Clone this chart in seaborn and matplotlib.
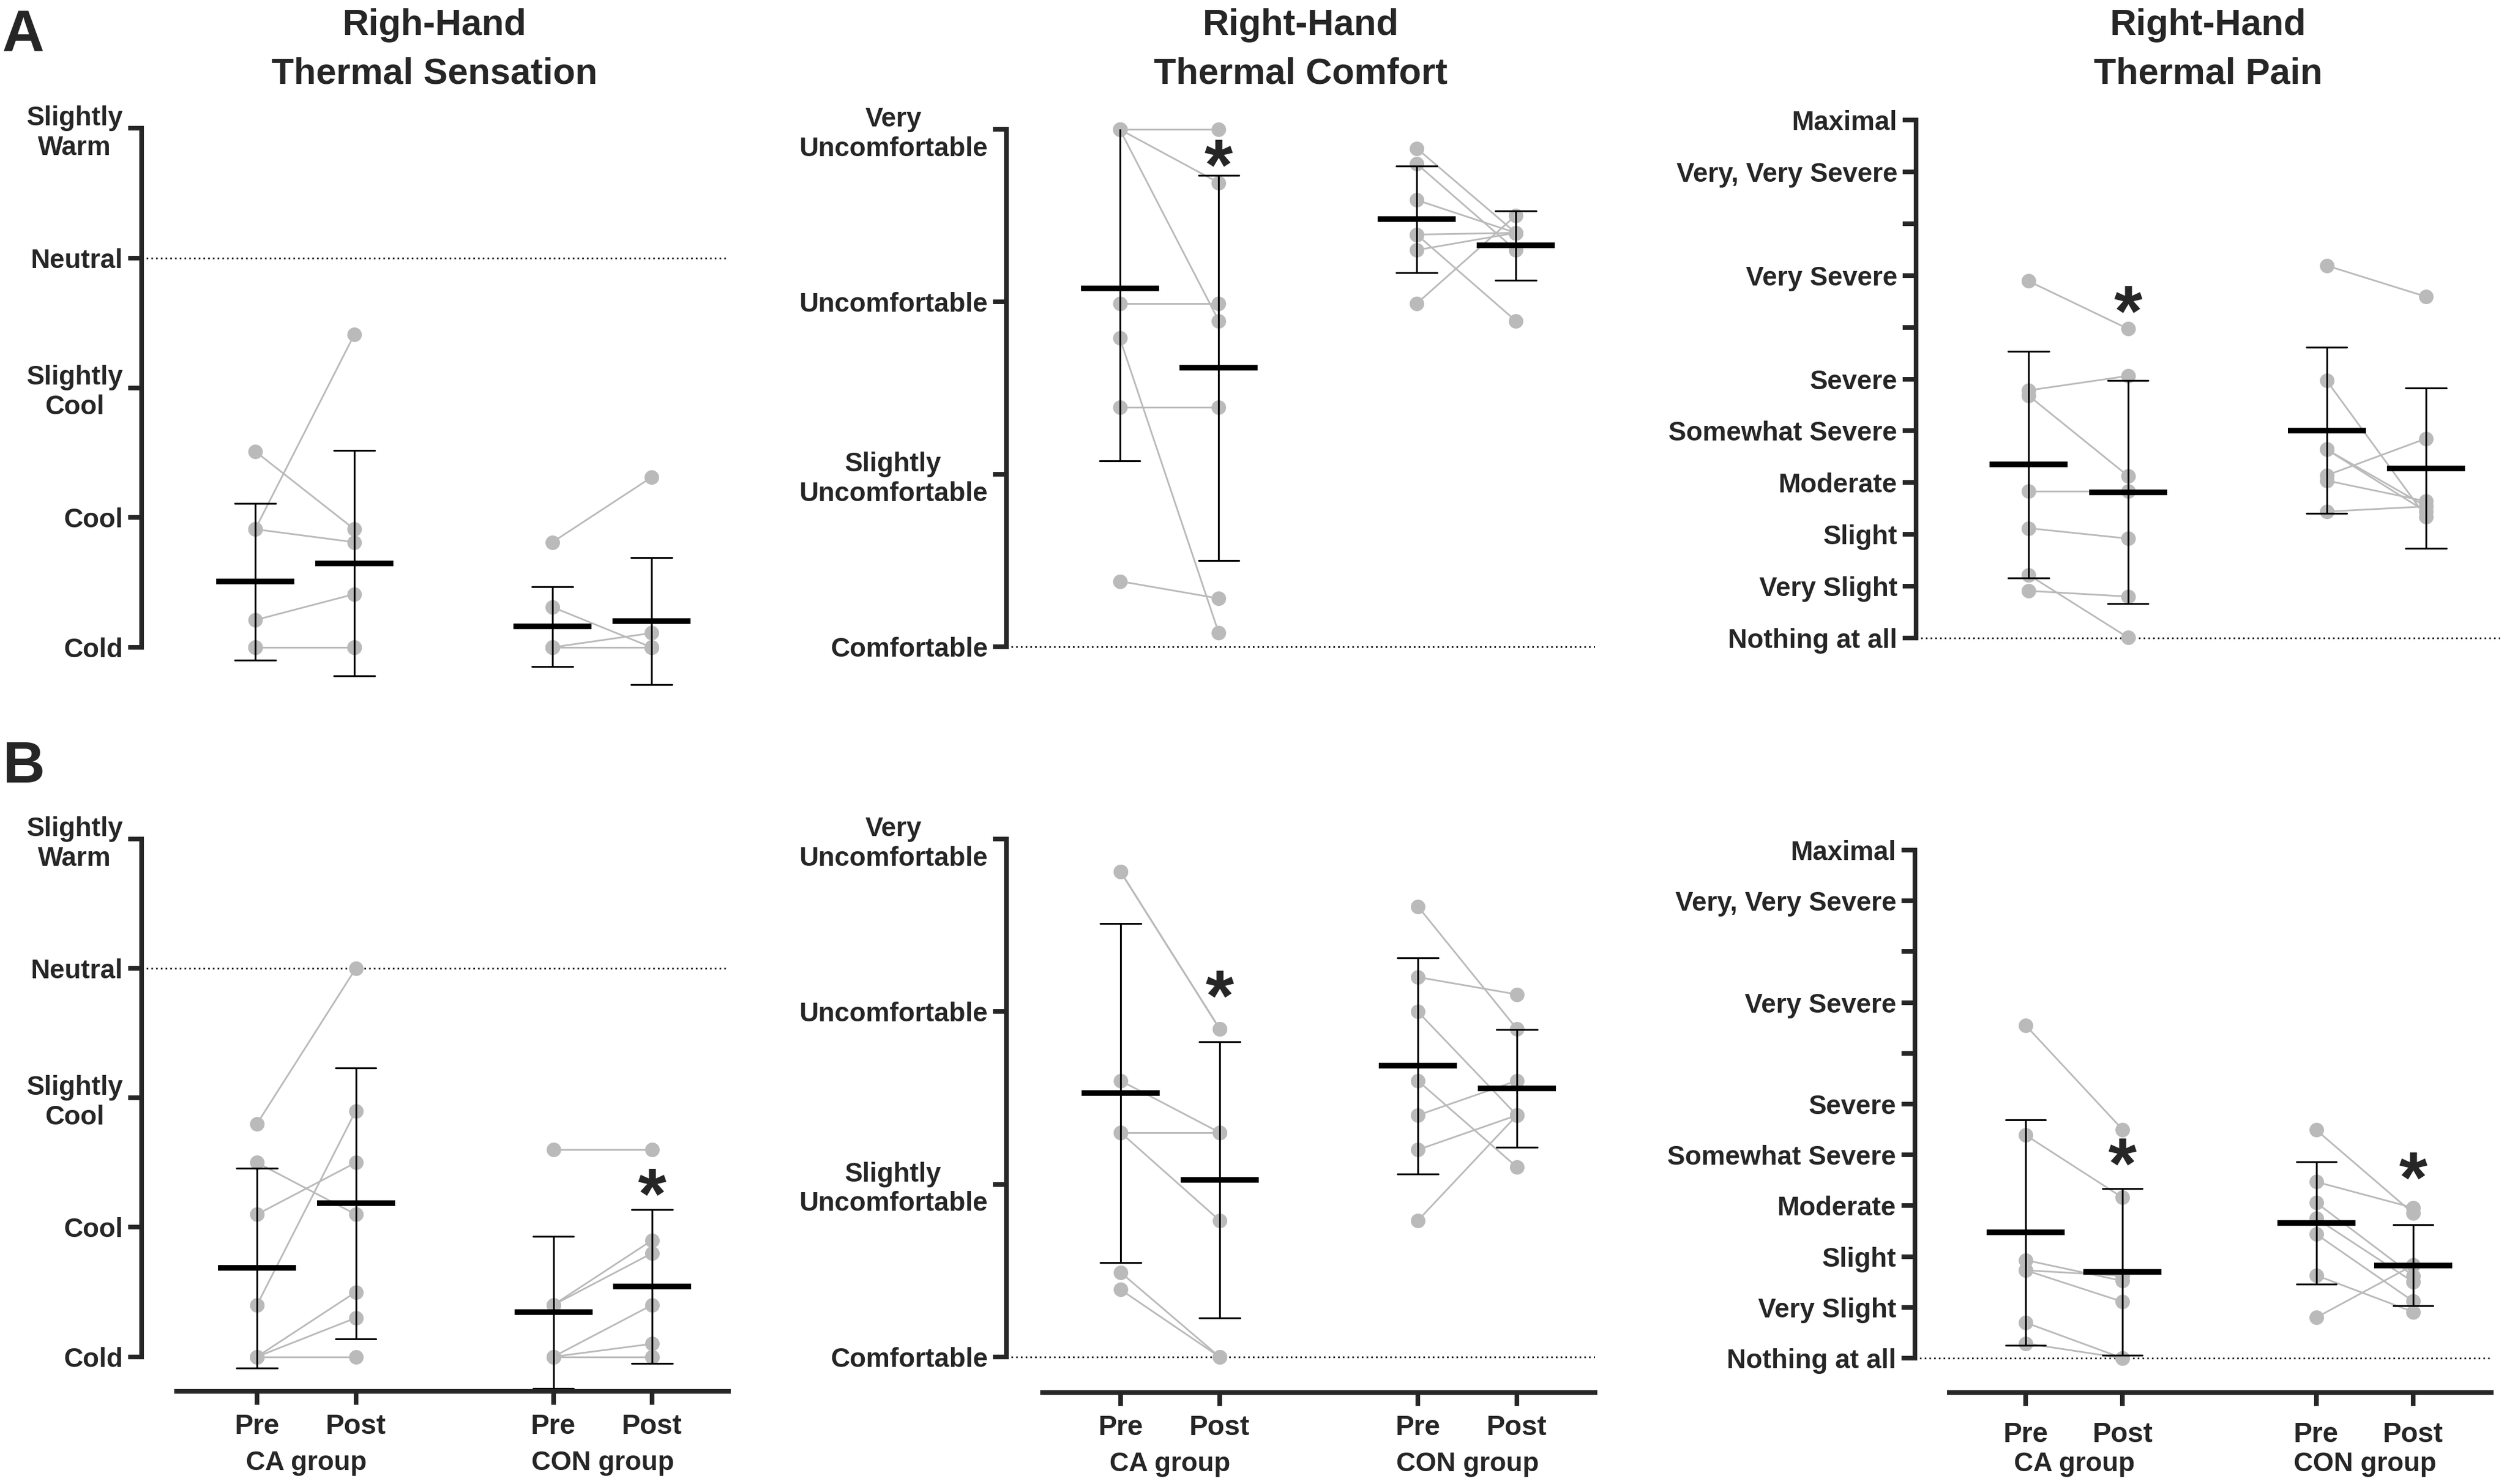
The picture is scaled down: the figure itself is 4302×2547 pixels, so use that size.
import matplotlib.pyplot as plt
import matplotlib.transforms as mtransforms
import pandas as pd
import seaborn as sns

sns.set_style('ticks')
plt.rcParams['font.family'] = ['Liberation Sans', 'DejaVu Sans']
plt.rcParams['font.weight'] = 'bold'

W, H, DPI = 4302, 2547, 300

# ---------------- data ----------------
# x positions: Pre/Post of CA group, then Pre/Post of CON group
x_pos = [0, 1, 3, 4]
x_labels = ['Pre', 'Post', 'Pre', 'Post']
group_names = ['CA group', 'CON group']

sens_ticks = [-3, -2, -1, 0, 1]
sens_labels = ['Cold', 'Cool', 'Slightly\nCool', 'Neutral', 'Slightly\nWarm']
comf_ticks = [0, 1, 2, 3]
comf_labels = ['Comfortable', 'Slightly\nUncomfortable', 'Uncomfortable',
               'Very\nUncomfortable']
pain_ticks = [0, 1, 2, 3, 4, 5, 6, 7, 8, 9, 10]
pain_labels = ['Nothing at all', 'Very Slight', 'Slight', 'Moderate',
               'Somewhat Severe', 'Severe', '', 'Very Severe', '',
               'Very, Very Severe', 'Maximal']

# row A (one value per subject, same order pre/post)
a_sens_ca_pre = [-1.49, -2.09, -2.09, -2.79, -3.0, -3.0, -3.0]
a_sens_ca_post = [-2.09, -0.59, -2.19, -2.59, -3.0, -3.0, -3.0]
a_sens_con_pre = [-2.19, -2.69, -3.0, -3.0, -3.0, -3.0, -3.0]
a_sens_con_post = [-1.69, -3.0, -2.89, -3.0, -3.0, -3.0, -3.0]

a_comf_ca_pre = [3.0, 3.0, 3.0, 1.99, 1.79, 1.39, 0.38]
a_comf_ca_post = [3.0, 2.69, 1.89, 1.99, 0.08, 1.39, 0.28]
a_comf_con_pre = [2.89, 2.80, 2.59, 2.39, 2.39, 2.30, 1.99]
a_comf_con_post = [2.40, 2.30, 2.40, 2.40, 1.89, 2.40, 2.50]

a_pain_ca_pre = [6.89, 4.78, 4.68, 2.83, 2.12, 1.22, 0.91]
a_pain_ca_post = [5.97, 5.06, 3.13, 2.83, 1.92, 0.01, 0.80]
a_pain_con_pre = [7.19, 4.97, 3.64, 3.64, 3.14, 3.04, 2.44]
a_pain_con_post = [6.59, 2.34, 2.44, 2.54, 3.85, 2.64, 2.54]

# row B
b_sens_ca_pre = [-1.20, -1.50, -1.90, -2.60, -3.0, -3.0, -3.0]
b_sens_ca_post = [0.0, -1.90, -1.50, -1.10, -2.50, -2.70, -3.0]
b_sens_con_pre = [-1.40, -2.60, -2.60, -3.0, -3.0, -3.0, -3.0]
b_sens_con_post = [-1.40, -2.10, -2.20, -2.60, -2.90, -3.0, -3.0]

b_comf_ca_pre = [2.81, 2.81, 1.60, 1.30, 1.30, 0.49, 0.39]
b_comf_ca_post = [1.90, 1.90, 1.30, 1.30, 0.79, 0.0, 0.0]
b_comf_con_pre = [2.61, 2.20, 2.00, 1.60, 1.40, 1.20, 0.79]
b_comf_con_post = [1.90, 2.10, 1.40, 1.10, 1.60, 1.40, 1.40]

b_pain_ca_pre = [6.55, 4.39, 1.93, 1.73, 1.73, 0.70, 0.29]
b_pain_ca_post = [4.50, 3.16, 1.52, 1.62, 1.11, 0.0, 0.0]
b_pain_con_pre = [4.49, 3.47, 3.06, 2.75, 2.44, 1.63, 0.80]
b_pain_con_post = [2.85, 2.96, 1.62, 1.50, 1.12, 0.91, 1.83]

# significance stars (x position, y value)
a_comf_stars = [(1, 2.83)]
a_pain_stars = [(1, 6.43)]
b_sens_stars = [(4, -1.69)]
b_comf_stars = [(1, 2.13)]
b_pain_stars = [(1, 3.96), (4, 3.68)]


def long_form(ca_pre, ca_post, con_pre, con_post):
    rows = []
    groups = [('CA', ca_pre, ca_post, x_pos[0], x_pos[1]),
              ('CON', con_pre, con_post, x_pos[2], x_pos[3])]
    for grp, pre, post, p0, p1 in groups:
        for i, (v0, v1) in enumerate(zip(pre, post)):
            rows.append({'subject': f'{grp}{i}', 'pos': p0, 'value': v0})
            rows.append({'subject': f'{grp}{i}', 'pos': p1, 'value': v1})
    return pd.DataFrame(rows)


# layout in pixels of the target image: box = (left, right, top, bottom)
panels = [
    dict(df=long_form(a_sens_ca_pre, a_sens_ca_post, a_sens_con_pre, a_sens_con_post),
         ticks=sens_ticks, labels=sens_labels, ref=0, stars=[],
         box=(243, 1248, 220, 1200), xref=((0, 438), (4, 1118)),
         yref=((-3, 1111), (1, 220)), title=('Righ-Hand', 'Thermal Sensation'),
         xaxis=None),
    dict(df=long_form(a_comf_ca_pre, a_comf_ca_post, a_comf_con_pre, a_comf_con_post),
         ticks=comf_ticks, labels=comf_labels, ref=0, stars=a_comf_stars,
         box=(1727, 2737, 222, 1200), xref=((0, 1921.5), (4, 2601)),
         yref=((0, 1110), (3, 222)), title=('Right-Hand', 'Thermal Comfort'),
         xaxis=None),
    dict(df=long_form(a_pain_ca_pre, a_pain_ca_post, a_pain_con_pre, a_pain_con_post),
         ticks=pain_ticks, labels=pain_labels, ref=0, stars=a_pain_stars,
         box=(3288, 4290, 206, 1200), xref=((0, 3481), (4, 4163)),
         yref=((0, 1095), (10, 206)), title=('Right-Hand', 'Thermal Pain'),
         xaxis=None),
    dict(df=long_form(b_sens_ca_pre, b_sens_ca_post, b_sens_con_pre, b_sens_con_post),
         ticks=sens_ticks, labels=sens_labels, ref=0, stars=b_sens_stars,
         box=(243, 1250, 1440, 2388), xref=((0, 441), (4, 1119)),
         yref=((-3, 2328.6), (1, 1440)), title=None,
         xaxis=dict(start=302.6, pad=3.6)),
    dict(df=long_form(b_comf_ca_pre, b_comf_ca_post, b_comf_con_pre, b_comf_con_post),
         ticks=comf_ticks, labels=comf_labels, ref=0, stars=b_comf_stars,
         box=(1727, 2737, 1440, 2390), xref=((0, 1923), (4, 2603)),
         yref=((0, 2329), (3, 1440)), title=None,
         xaxis=dict(start=1789, pad=3.6)),
    dict(df=long_form(b_pain_ca_pre, b_pain_ca_post, b_pain_con_pre, b_pain_con_post),
         ticks=pain_ticks, labels=pain_labels, ref=0, stars=b_pain_stars,
         box=(3286, 4275, 1459, 2390), xref=((0, 3476), (4, 4141)),
         yref=((0, 2331), (10, 1459)), title=None,
         xaxis=dict(start=3345, pad=6.5)),
]

fig = plt.figure(figsize=(W / DPI, H / DPI), dpi=DPI)

for p in panels:
    left, right, top, bottom = p['box']
    (xv0, xp0), (xv1, xp1) = p['xref']
    (yv0, yp0), (yv1, yp1) = p['yref']
    ax = fig.add_axes([left / W, 1 - bottom / H, (right - left) / W, (bottom - top) / H])
    sx = (xp1 - xp0) / (xv1 - xv0)
    sy = (yp0 - yp1) / (yv1 - yv0)
    xlim = (xv0 + (left - xp0) / sx, xv0 + (right - xp0) / sx)
    ylim = (yv0 - (bottom - yp0) / sy, yv0 + (yp0 - top) / sy)

    ax.axhline(p['ref'], color='black', linewidth=0.65, linestyle=(0, (1, 2)), zorder=1)

    # individual subjects
    sns.lineplot(data=p['df'], x='pos', y='value', units='subject', estimator=None,
                 color='#bababa', linewidth=0.7, marker='o', markersize=6,
                 markeredgewidth=0, clip_on=False, legend=False, ax=ax)
    # mean +/- SD
    sns.pointplot(data=p['df'], x='pos', y='value', native_scale=True, errorbar='sd',
                  color='black', marker='_', markersize=32, markeredgewidth=2.3,
                  linestyle='none', capsize=0.41, err_kws={'linewidth': 0.75}, ax=ax)

    ax.set_xlim(xlim)
    ax.set_ylim(ylim)
    ax.set_xlabel('')
    ax.set_ylabel('')

    for s in ['top', 'right']:
        ax.spines[s].set_visible(False)
    ax.spines['left'].set_linewidth(1.9)
    ax.spines['left'].set_bounds(min(p['ticks']), max(p['ticks']))
    ax.set_yticks(p['ticks'])
    ax.set_yticklabels(p['labels'])
    for lbl in ax.get_yticklabels():
        lbl.set_multialignment('center')
    ax.tick_params(axis='y', length=5.5, width=1.9, pad=2.2, labelsize=11,
                   direction='out')

    if p['xaxis'] is None:
        ax.spines['bottom'].set_visible(False)
        ax.tick_params(axis='x', bottom=False, labelbottom=False)
    else:
        ax.spines['bottom'].set_linewidth(1.9)
        ax.spines['bottom'].set_bounds(xv0 + (p['xaxis']['start'] - xp0) / sx, xlim[1])
        ax.set_xticks(x_pos)
        ax.set_xticklabels(x_labels)
        ax.tick_params(axis='x', length=5.5, width=1.9, pad=p['xaxis']['pad'],
                       labelsize=11.5, direction='out')
        for mid, name in zip([(x_pos[0] + x_pos[1]) / 2, (x_pos[2] + x_pos[3]) / 2],
                             group_names):
            ax.annotate(name, xy=(mid, 0), xycoords=('data', 'axes fraction'),
                        xytext=(0, -32.5), textcoords='offset points', ha='center',
                        va='baseline', fontsize=11, fontweight='bold',
                        annotation_clip=False)

    for sx_, sy_ in p['stars']:
        ax.annotate('*', xy=(sx_, sy_), xytext=(0, -0.43 * 30), textcoords='offset points',
                    ha='center', va='baseline', fontsize=30, fontweight='bold',
                    annotation_clip=False)

    if p['title'] is not None:
        tr = mtransforms.blended_transform_factory(ax.transAxes, fig.transFigure)
        ax.text(0.5, 1 - 60 / H, p['title'][0], transform=tr, ha='center',
                va='baseline', fontsize=15, fontweight='bold')
        ax.text(0.5, 1 - 143 / H, p['title'][1], transform=tr, ha='center',
                va='baseline', fontsize=15, fontweight='bold')

fig.text(4 / W, 1 - 15 / H, 'A', ha='left', va='top', fontsize=24, fontweight='bold')
fig.text(4 / W, 1 - 1270 / H, 'B', ha='left', va='top', fontsize=24, fontweight='bold')

fig.savefig('out.png', dpi=DPI)
plt.close(fig)
